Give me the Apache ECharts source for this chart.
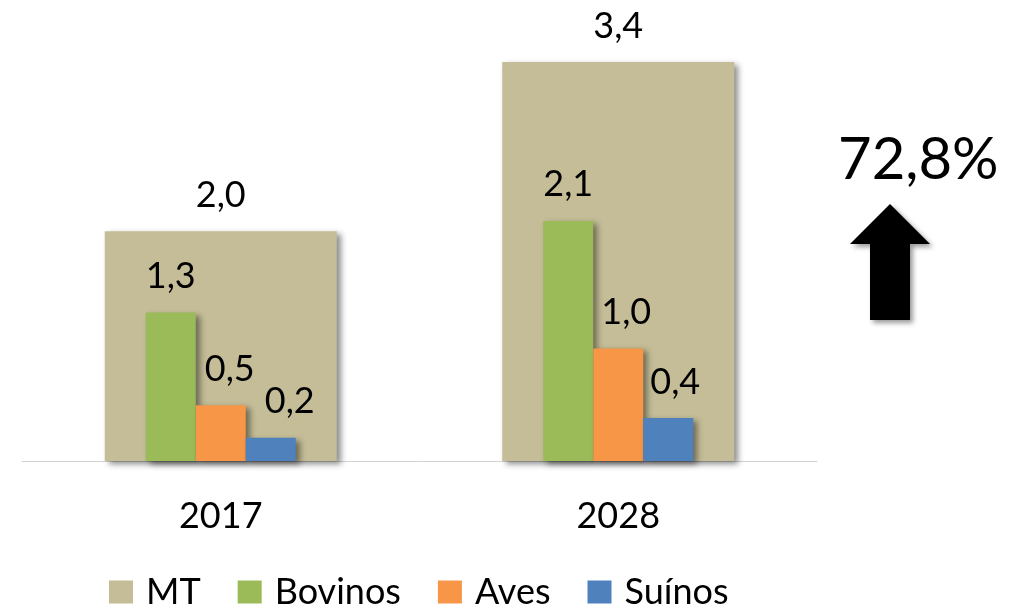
<!DOCTYPE html>
<html>
<head>
<meta charset="utf-8">
<script src="https://cdn.jsdelivr.net/npm/echarts@6/dist/echarts.min.js"></script>
<style>
html,body{margin:0;padding:0;background:#fff;}
#chart{width:1023px;height:607px;}
</style>
</head>
<body>
<div id="chart"></div>
<script>
// ---- data ----
var categories = ['2017', '2028'];
var mt = [1.98, 3.44];
var bovinos = [1.28, 2.07];
var aves = [0.48, 0.97];
var suinos = [0.20, 0.37];
var growthLabel = '72,8%';

// ---- style ----
var FONT = 'Lato';
var colors = {MT: '#C4BD97', Bovinos: '#9BBB59', Aves: '#F79646', 'Suínos': '#4F81BD'};
var shadow = {shadowBlur: 6, shadowOffsetX: 4, shadowOffsetY: 3, shadowColor: 'rgba(0,0,0,0.45)'};
var labelOffsets = {Aves: [[9, 0], [8, 0]], 'Suínos': [[19, 0], [7, 0]]};

function fmt(v) { return v.toFixed(1).replace('.', ','); }

function makeData(name, arr) {
  return arr.map(function (v, i) {
    var d = {value: v};
    if (labelOffsets[name]) d.label = {offset: labelOffsets[name][i]};
    return d;
  });
}

function barSeries(name, arr, axisIdx, width, z) {
  return {
    name: name,
    type: 'bar',
    xAxisIndex: axisIdx,
    barWidth: width,
    barGap: 0,
    z: z,
    data: makeData(name, arr),
    itemStyle: Object.assign({color: colors[name]}, shadow),
    label: {
      show: true,
      position: 'top',
      distance: 18,
      fontFamily: FONT,
      fontSize: 36,
      color: '#000',
      formatter: function (p) { return fmt(p.value); }
    }
  };
}

var chart = echarts.init(document.getElementById('chart'), null, {renderer: 'canvas'});
var option = {
  animation: false,
  backgroundColor: '#fff',
  grid: {left: 22, right: 206, top: 55, bottom: 146, containLabel: false},
  legend: {
    data: ['MT', 'Bovinos', 'Aves', 'Suínos'],
    left: 104,
    top: 569,
    icon: 'rect',
    itemWidth: 24,
    itemHeight: 23,
    itemGap: 37,
    textStyle: {fontFamily: FONT, fontSize: 36, color: '#000', lineHeight: 36, padding: [0, 0, 0, 8]}
  },
  xAxis: [
    {
      type: 'category',
      data: categories,
      axisLine: {lineStyle: {color: '#D3D3D3', width: 1}},
      axisTick: {show: false},
      axisLabel: {fontFamily: FONT, fontSize: 36, color: '#000', margin: 37}
    },
    {
      type: 'category',
      data: categories,
      show: false
    }
  ],
  yAxis: {type: 'value', min: 0, max: 3.5, show: false, splitLine: {show: false}},
  series: [
    barSeries('MT', mt, 0, 232, 1),
    barSeries('Bovinos', bovinos, 1, 50, 3),
    barSeries('Aves', aves, 1, 50, 3),
    barSeries('Suínos', suinos, 1, 50, 3)
  ],
  graphic: [
    {
      type: 'text',
      left: 838,
      top: 131,
      style: {text: growthLabel, fontFamily: FONT, fontSize: 58, fill: '#000'}
    },
    {
      type: 'polygon',
      shape: {points: [[890, 204], [930, 244], [910, 244], [910, 320], [870, 320], [870, 244], [850, 244]]},
      style: {fill: '#000', shadowBlur: 5, shadowOffsetX: 3, shadowOffsetY: 3, shadowColor: 'rgba(0,0,0,0.4)'}
    }
  ]
};
chart.setOption(option);
</script>
</body>
</html>
